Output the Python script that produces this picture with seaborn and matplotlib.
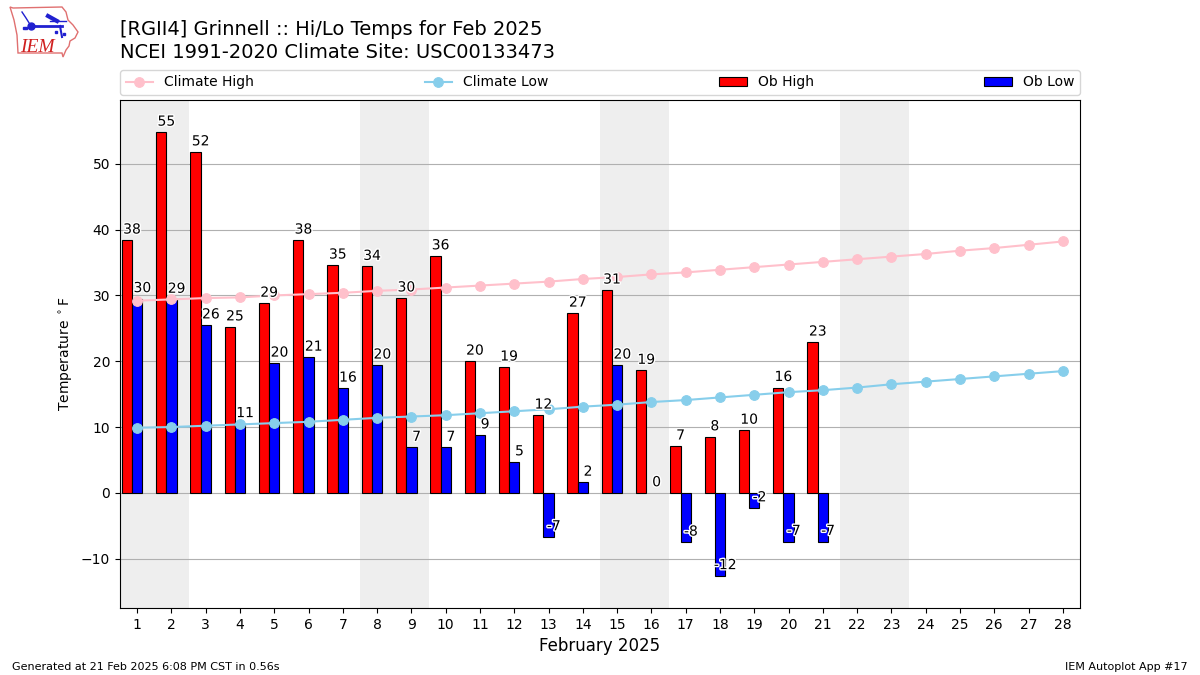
import numpy as np
import pandas as pd
import seaborn as sns
import matplotlib.pyplot as plt
import matplotlib.patheffects as pe

# observed values, February 2025
ob_days = list(range(1, 22))
ob_high = [38.4, 54.8, 51.8, 25.2, 28.8, 38.4, 34.6, 34.4, 29.6, 36.0, 20.0,
           19.1, 11.8, 27.3, 30.8, 18.6, 7.1, 8.5, 9.5, 16.0, 22.9]
ob_low = [29.5, 29.4, 25.5, 10.5, 19.7, 20.6, 15.9, 19.4, 6.9, 6.9, 8.8,
          4.7, -6.7, 1.6, 19.4, 0.0, -7.5, -12.6, -2.3, -7.4, -7.4]
high_labels = [38, 55, 52, 25, 29, 38, 35, 34, 30, 36, 20,
               19, 12, 27, 31, 19, 7, 8, 10, 16, 23]
low_labels = [30, 29, 26, 11, 20, 21, 16, 20, 7, 7, 9,
              5, -7, 2, 20, 0, -8, -12, -2, -7, -7]

# climatology
clim_days = list(range(1, 29))
clim_high = [29.2, 29.4, 29.6, 29.7, 30.0, 30.2, 30.4, 30.7, 30.9, 31.2,
             31.5, 31.8, 32.1, 32.5, 32.8, 33.2, 33.5, 33.9, 34.3, 34.7,
             35.1, 35.5, 35.9, 36.3, 36.8, 37.2, 37.7, 38.2]
clim_low = [9.9, 10.0, 10.2, 10.4, 10.6, 10.8, 11.1, 11.4, 11.6, 11.8,
            12.1, 12.4, 12.7, 13.1, 13.4, 13.8, 14.1, 14.5, 14.9, 15.3,
            15.6, 16.0, 16.5, 16.9, 17.3, 17.7, 18.1, 18.5]
weekends = [(0.5, 2.5), (7.5, 9.5), (14.5, 16.5), (21.5, 23.5)]

# logo outline, in pixels of the logo box
logo_x = [10, 13, 62, 66, 68, 73, 78, 75, 70, 69, 66, 63, 62, 18, 17, 14]
logo_y = [7, 8, 7, 12, 20, 25, 32, 38, 41, 46, 50, 57, 53, 53, 35, 20]

BAR = 0.3
df = pd.DataFrame({'day': ob_days, 'high': ob_high, 'low': ob_low})
df['high_x'] = df['day'] - BAR
clim = pd.DataFrame({'day': clim_days, 'high': clim_high, 'low': clim_low})

fig = plt.figure(figsize=(12, 6.75), dpi=100)
ax = fig.add_axes([120 / 1200, 1 - 608 / 675, 960 / 1200, 508 / 675])

for lo, hi in weekends:
    ax.axvspan(lo, hi, color='#eeeeee', lw=0, zorder=0)

sns.lineplot(data=clim, x='day', y='high', ax=ax, color='pink', marker='o', ms=7,
             mec='pink', lw=1.5, label='Climate High', zorder=4)
sns.lineplot(data=clim, x='day', y='low', ax=ax, color='skyblue', marker='o', ms=7,
             mec='skyblue', lw=1.5, label='Climate Low', zorder=4)
sns.barplot(data=df, x='high_x', y='high', ax=ax, native_scale=True, width=BAR,
            color='red', saturation=1, edgecolor='k', linewidth=0.8,
            label='Ob High', zorder=2)
sns.barplot(data=df, x='day', y='low', ax=ax, native_scale=True, width=BAR,
            color='blue', saturation=1, edgecolor='k', linewidth=0.8,
            label='Ob Low', zorder=2)

# a low of exactly zero shows no bar outline
for p in ax.patches:
    if p.get_height() == 0:
        p.set_visible(False)

stroke = [pe.withStroke(linewidth=2, foreground='white')]
for d, v, lab in zip(ob_days, ob_high, high_labels):
    ax.text(d - BAR / 2, v + 0.55, str(lab), ha='center', va='bottom', fontsize=10,
            path_effects=stroke, zorder=5)
for d, v, lab in zip(ob_days, ob_low, low_labels):
    ax.text(d + BAR / 2, v + 0.55, str(lab), ha='center', va='bottom', fontsize=10,
            path_effects=stroke, zorder=5)

ax.set_xlim(0.5, 28.5)
ax.set_ylim(-17.5, 59.7)
ax.set_xticks(clim_days)
ax.set_xticklabels([str(d) for d in clim_days])
ax.set_yticks(np.arange(-10, 51, 10))
ax.yaxis.grid(True, color='#b0b0b0', lw=0.8)
ax.xaxis.grid(False)
ax.set_axisbelow(True)
ax.tick_params(labelsize=10)
ax.set_xlabel('February 2025', fontsize=12)
ax.set_ylabel(r'Temperature $^\circ$F', fontsize=10)

h, l = ax.get_legend_handles_labels()
ax.legend(h, l, ncol=4, mode='expand', loc='lower left', fontsize=10,
          bbox_to_anchor=(0, 1.01, 1, 0.05), borderaxespad=0)

fig.text(120 / 1200, 1 - 35 / 675, '[RGII4] Grinnell :: Hi/Lo Temps for Feb 2025', fontsize=14)
fig.text(120 / 1200, 1 - 57.5 / 675, 'NCEI 1991-2020 Climate Site: USC00133473', fontsize=14)
fig.text(12 / 1200, 1 - 670 / 675, 'Generated at 21 Feb 2025 6:08 PM CST in 0.56s', fontsize=8)
fig.text(1188 / 1200, 1 - 670 / 675, 'IEM Autoplot App #17', fontsize=8, ha='right')

# small logo
logo = fig.add_axes([0, 1 - 62 / 675, 90 / 1200, 62 / 675])
logo.set_xlim(0, 90)
logo.set_ylim(62, 0)
logo.axis('off')
logo.fill(logo_x, logo_y, fc='white', ec='#e07070', lw=1)
logo.plot([31, 62], [26, 26], color='#2020d0', lw=2)
logo.plot([31], [26], 'o', color='#2020d0', ms=5)
logo.plot([48, 57], [16, 21], color='#2020d0', lw=3)
logo.plot([50, 66], [21, 21], color='#2020d0', lw=1)
logo.plot([22, 26, 31], [12, 18, 26], color='#2020d0', lw=1)
logo.plot([60, 62], [26, 37], color='#2020d0', lw=1.5)
logo.plot([24, 26, 56, 64], [28, 28, 32, 34], 's', color='#2020d0', ms=1.5)
logo.text(37.5, 52, 'IEM', color='#d02020', family='Liberation Serif', style='italic',
          fontsize=14, ha='center', va='baseline')

fig.savefig('out.png', dpi=100, facecolor='w')
